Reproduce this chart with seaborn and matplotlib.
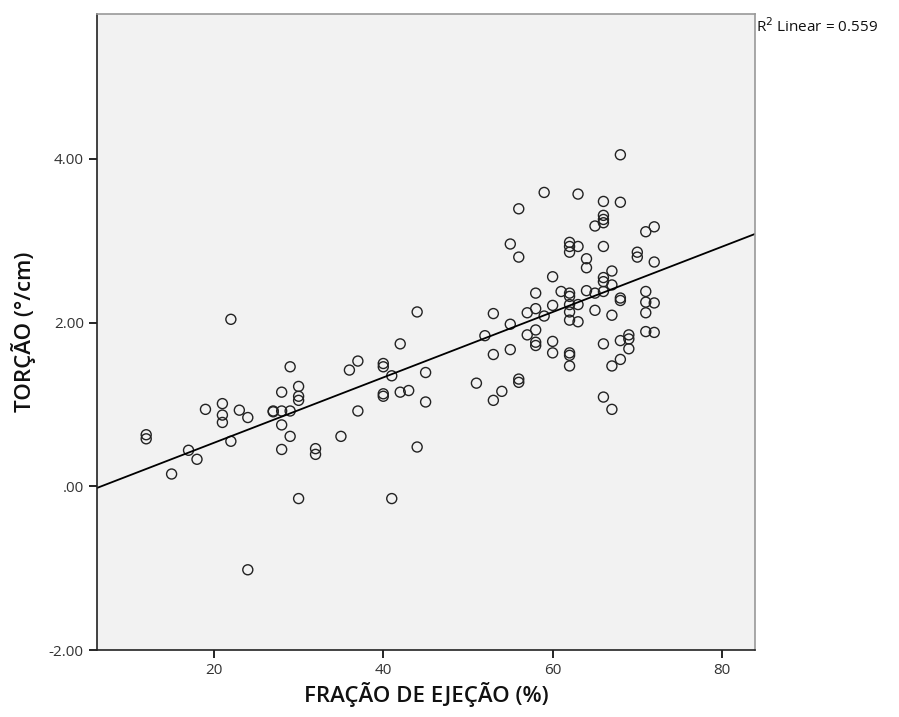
import matplotlib
matplotlib.use("Agg")
import matplotlib.pyplot as plt
import seaborn as sns
import pandas as pd

# FRAÇÃO DE EJEÇÃO (%) values
ejection_fraction = [
    12, 12, 15, 17, 18, 19, 21, 21, 21, 22, 22, 23, 24, 24,
    27, 27, 28, 28, 28, 28, 29, 29, 29, 30, 30, 30, 30, 32, 32,
    35, 36, 37, 37, 40, 40, 40, 40, 41, 41, 42, 42, 43, 44, 44, 45, 45,
    51, 52, 53, 53, 53, 54, 55, 55, 55, 56, 56, 56, 56, 57, 57,
    58, 58, 58, 58, 58, 59, 59, 60, 60, 60, 60, 61,
    62, 62, 62, 62, 62, 62, 62, 62, 62, 62, 62,
    63, 63, 63, 63, 64, 64, 64, 65, 65, 65,
    66, 66, 66, 66, 66, 66, 66, 66, 66, 66,
    67, 67, 67, 67, 67, 68, 68, 68, 68, 68, 68, 69, 69, 69, 70, 70,
    71, 71, 71, 71, 71, 72, 72, 72, 72,
]
# TORÇÃO (º/cm) values
torsion = [
    0.63, 0.58, 0.15, 0.44, 0.33, 0.94, 1.01, 0.87, 0.78, 2.04, 0.55, 0.93, 0.84, -1.02,
    0.92, 0.91, 1.15, 0.92, 0.75, 0.45, 1.46, 0.92, 0.61, 1.22, 1.10, 1.05, -0.15, 0.46, 0.39,
    0.61, 1.42, 1.53, 0.92, 1.50, 1.46, 1.13, 1.10, 1.35, -0.15, 1.74, 1.15, 1.17, 2.13, 0.48, 1.39, 1.03,
    1.26, 1.84, 2.11, 1.61, 1.05, 1.16, 2.96, 1.98, 1.67, 3.39, 2.80, 1.31, 1.27, 2.12, 1.85,
    2.36, 2.17, 1.91, 1.76, 1.72, 3.59, 2.08, 2.56, 2.21, 1.77, 1.63, 2.38,
    2.98, 2.93, 2.86, 2.36, 2.32, 2.22, 2.13, 2.03, 1.63, 1.60, 1.47,
    3.57, 2.93, 2.22, 2.01, 2.78, 2.67, 2.39, 3.18, 2.36, 2.15,
    3.48, 3.31, 3.26, 3.22, 2.93, 2.55, 2.50, 2.38, 1.74, 1.09,
    2.63, 2.46, 2.09, 1.47, 0.94, 4.05, 3.47, 2.30, 2.27, 1.78, 1.55, 1.85, 1.80, 1.68, 2.86, 2.80,
    3.11, 2.38, 2.25, 2.12, 1.89, 3.17, 2.74, 2.24, 1.88,
]

x_ticks = [20, 40, 60, 80]
x_tick_labels = ["20", "40", "60", "80"]
y_ticks = [-2.0, 0.0, 2.0, 4.0]
y_tick_labels = ["-2.00", ".00", "2.00", "4.00"]

df = pd.DataFrame({"ef": ejection_fraction, "tor": torsion})

sns.set_style("white")
plt.rcParams["font.family"] = ["Open Sans", "DejaVu Sans"]

fig = plt.figure(figsize=(8.99, 7.17), dpi=100)
ax = fig.add_axes([97 / 899, 1 - 650 / 717, (755 - 97) / 899, (650 - 14) / 717])
ax.set_facecolor("#f2f2f2")
ax.set_xlim(6.19, 83.9)
ax.set_ylim(-2.0, 5.77)

sns.regplot(data=df, x="ef", y="tor", ax=ax, ci=None, truncate=False,
            scatter_kws=dict(facecolors="none", edgecolors="#222222", s=52,
                             linewidths=1.0, alpha=1),
            line_kws=dict(color="black", linewidth=1.3))
ax.set_xlim(6.19, 83.9)
ax.set_ylim(-2.0, 5.77)

ax.set_xticks(x_ticks)
ax.set_xticklabels(x_tick_labels)
ax.set_yticks(y_ticks)
ax.set_yticklabels(y_tick_labels)
ax.tick_params(axis="both", direction="out", length=6, width=1.2, color="black",
               labelsize=11, labelcolor="#333333", bottom=True, left=True)

for side in ["top", "right"]:
    ax.spines[side].set_color("#999999")
    ax.spines[side].set_linewidth(1.2)
for side in ["left", "bottom"]:
    ax.spines[side].set_color("#222222")
    ax.spines[side].set_linewidth(1.2)

ax.set_xlabel("FRAÇÃO DE EJEÇÃO (%)", fontsize=16, fontweight="semibold",
              color="#111111", labelpad=3)
ax.set_ylabel("TORÇÃO (°/cm)", fontsize=16, fontweight="semibold",
              color="#111111", labelpad=9)

fig.text(756 / 899, 1 - 27 / 717, "R$^2$ Linear = 0.559", fontsize=11,
         color="#111111", va="center", ha="left")

fig.savefig("out.png", dpi=100, facecolor="white")
